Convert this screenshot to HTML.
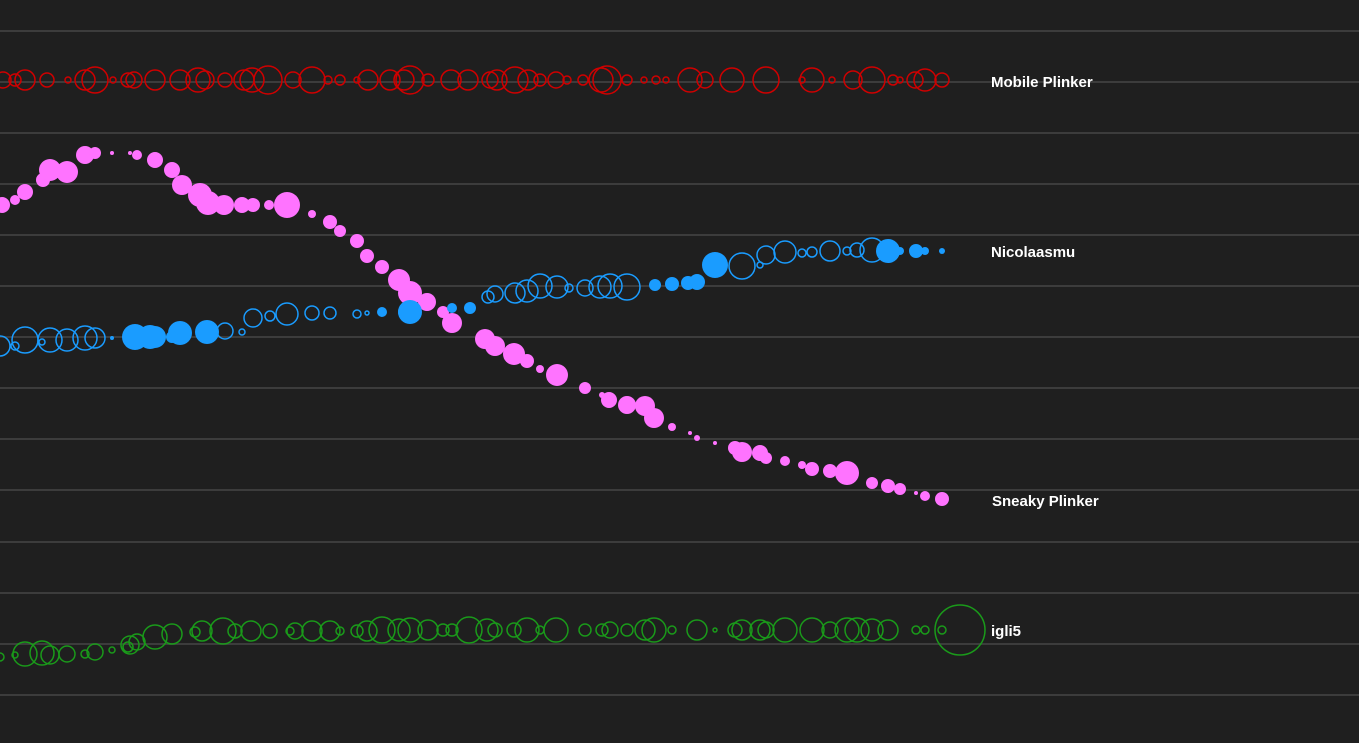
<!DOCTYPE html>
<html><head><meta charset="utf-8"><style>
html,body{margin:0;padding:0;background:#1f1f1f;overflow:hidden}
svg{display:block}
text{font-family:"Liberation Sans",sans-serif;font-weight:bold;font-size:15px;fill:#fff}
</style></head><body>
<svg id="s" width="1359" height="743" viewBox="0 0 1359 743" xmlns="http://www.w3.org/2000/svg">
<rect width="1359" height="743" fill="#1f1f1f"/>
<g id="grid" stroke="#3c3c3c" stroke-width="2"></g>
<g id="dots"></g>
<text x="991" y="87">Mobile Plinker</text>
<text x="991" y="257">Nicolaasmu</text>
<text x="992" y="506">Sneaky Plinker</text>
<text x="991" y="636">igli5</text>
</svg>
<script>
var NS="http://www.w3.org/2000/svg";
var g=document.getElementById("grid");
[31,82,133,184,235,286,337,388,439,490,542,593,644,695].forEach(function(y){
var l=document.createElementNS(NS,"line");l.setAttribute("x1",0);l.setAttribute("x2",1359);l.setAttribute("y1",y);l.setAttribute("y2",y);g.appendChild(l);});
var d=document.getElementById("dots");
function c(x,y,r,col,fill){var e=document.createElementNS(NS,"circle");e.setAttribute("cx",x);e.setAttribute("cy",y);e.setAttribute("r",r);
if(fill){e.setAttribute("fill",col);}else{e.setAttribute("fill","none");e.setAttribute("stroke",col);e.setAttribute("stroke-width",1.5);}d.appendChild(e);}
var red=[[3,8],[15,6],[25,10],[47,7],[68,3],[85,10],[95,13],[113,3],[128,7],[134,8],[155,10],[180,10],[198,12],[205,9],[225,7],[244,10],[252,12],[268,14],[293,8],[312,13],[328,4],[340,5],[357,3],[368,10],[390,10],[404,10],[410,14],[428,6],[451,10],[468,10],[490,8],[497,10],[515,13],[528,10],[540,6],[556,8],[567,4],[583,5],[601,12],[607,14],[627,5],[644,3],[656,4],[666,3],[690,12],[705,8],[732,12],[766,13],[802,3],[812,12],[832,3],[853,9],[872,13],[893,5],[900,3],[915,8],[925,11],[942,7]];
red.forEach(function(p){c(p[0],80,p[1],"#d00000",false);});
var green=[[0,657,4],[15,655,3],[25,654,12],[42,653,12],[50,655,9],[67,654,8],[85,654,4],[95,652,8],[112,650,3],[128,647,5],[130,645,9],[137,642,8],[155,637,12],[172,634,10],[195,632,5],[202,631,10],[223,631,13],[235,631,7],[251,631,10],[270,631,7],[290,631,4],[295,631,8],[312,631,10],[330,631,10],[340,631,4],[357,631,6],[367,631,10],[382,630,13],[399,630,11],[410,630,12],[428,630,10],[443,630,6],[452,630,6],[469,630,13],[487,630,11],[495,630,7],[514,630,7],[527,630,12],[540,630,4],[556,630,12],[585,630,6],[602,630,6],[610,630,8],[627,630,6],[645,630,10],[654,630,12],[672,630,4],[697,630,10],[715,630,2],[735,630,7],[742,630,10],[760,630,10],[766,630,8],[785,630,12],[812,630,12],[830,630,8],[847,630,12],[857,630,12],[872,630,11],[888,630,10],[916,630,4],[925,630,4],[942,630,4],[960,630,25]];
green.forEach(function(p){c(p[0],p[1],p[2],"#1a9a1a",false);});
var blue=[[0,346,10,0],[15,346,4,0],[25,340,13,0],[42,342,3,0],[50,340,12,0],[67,340,11,0],[85,338,12,0],[95,338,10,0],[112,338,2,1],[135,337,13,1],[150,337,12,1],[155,337,11,1],[180,333,12,1],[172,337,6,1],[207,332,12,1],[225,331,8,0],[242,332,3,0],[253,318,9,0],[270,316,5,0],[287,314,11,0],[312,313,7,0],[330,313,6,0],[357,314,4,0],[367,313,2,0],[382,312,5,1],[405,312,7,1],[410,312,12,1],[452,308,5,1],[470,308,6,1],[488,297,6,0],[495,294,8,0],[515,293,10,0],[527,291,11,0],[540,286,12,0],[557,287,11,0],[569,288,4,0],[585,288,8,0],[600,287,11,0],[610,286,12,0],[627,287,13,0],[655,285,6,1],[672,284,7,1],[688,283,7,1],[697,282,8,1],[715,265,13,1],[742,266,13,0],[760,265,3,0],[766,255,9,0],[785,252,11,0],[802,253,4,0],[812,252,5,0],[830,251,10,0],[847,251,4,0],[857,250,7,0],[872,250,12,0],[888,251,12,1],[900,251,4,1],[916,251,7,1],[925,251,4,1],[942,251,3,1]];
var pink=[[2,205,8],[15,200,5],[25,192,8],[43,180,7],[50,170,11],[67,172,11],[85,155,9],[95,153,6],[112,153,2],[130,153,2],[137,155,5],[155,160,8],[172,170,8],[182,185,10],[200,195,12],[208,203,12],[224,205,10],[242,205,8],[253,205,7],[269,205,5],[287,205,13],[312,214,4],[330,222,7],[340,231,6],[357,241,7],[367,256,7],[382,267,7],[399,280,11],[410,293,12],[427,302,9],[443,312,6],[452,323,10],[485,339,10],[495,346,10],[514,354,11],[527,361,7],[540,369,4],[557,375,11],[585,388,6],[602,395,3],[609,400,8],[627,405,9],[645,406,10],[654,418,10],[672,427,4],[690,433,2],[697,438,3],[715,443,2],[735,448,7],[742,452,10],[760,453,8],[766,458,6],[785,461,5],[802,465,4],[812,469,7],[830,471,7],[847,473,12],[872,483,6],[888,486,7],[900,489,6],[916,493,2],[925,496,5],[942,499,7]];
blue.forEach(function(p){if(p[0]<400)c(p[0],p[1],p[2],"#1a9cff",p[3]);});
pink.forEach(function(p){c(p[0],p[1],p[2],"#ff73ff",true);});
blue.forEach(function(p){if(p[0]>=400)c(p[0],p[1],p[2],"#1a9cff",p[3]);});
</script>
</body></html>
